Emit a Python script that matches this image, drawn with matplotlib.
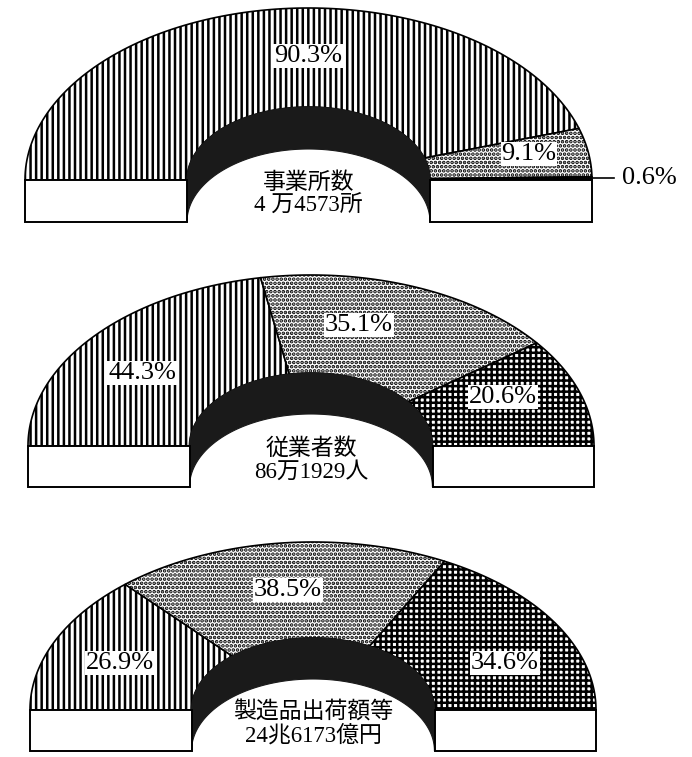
import numpy as np
import matplotlib.pyplot as plt
from matplotlib.patches import Polygon, Rectangle

plt.rcParams['hatch.linewidth'] = 1.8

# data
titles = ["事業所数", "従業者数", "製造品出荷額等"]
totals = ["4 万4573所", "86万1929人", "24兆6173億円"]
shares = [
    [90.3, 9.1, 0.6],
    [44.3, 35.1, 20.6],
    [26.9, 38.5, 34.6],
]

# layout (pixel coordinates of the 692x757 picture)
# cx, cy, outer a, outer b, inner a, inner b, thickness
rings = [
    (308.5, 180, 283.5, 172, 121.5, 73, 42),
    (311.0, 446, 283.0, 171, 121.5, 73, 41),
    (313.0, 710, 283.0, 168, 121.5, 72, 41),
]
label_pos = [
    [(308, 56), (529, 154), None],
    [(142, 373), (359, 325), (503, 397)],
    [(120, 663), (288, 590), (505, 663)],
]
# hatch, face colour per slice
styles = [
    [("|||", "white"), ("....", "white"), ("", "black")],
    [("|||", "white"), ("....", "white"), ("+++", "white")],
    [("|||", "white"), ("....", "white"), ("+++", "white")],
]

num_font = ["Liberation Serif", "Noto Sans CJK JP"]
jp_font = ["Noto Sans CJK JP"]


def arc(cx, cy, a, b, t0, t1, n=120):
    t = np.radians(np.linspace(t0, t1, n))
    return np.column_stack([cx + a * np.cos(t), cy - b * np.sin(t)])


fig = plt.figure(figsize=(6.92, 7.57), dpi=100)
ax = fig.add_axes([0, 0, 1, 1])
ax.set_xlim(0, 692)
ax.set_ylim(757, 0)
ax.axis("off")

for i, (cx, cy, A, B, a, b, h) in enumerate(rings):
    # slices on the top face, from the left end clockwise
    start = 180.0
    for j, v in enumerate(shares[i]):
        end = start - 180.0 * v / 100.0
        pts = np.vstack([arc(cx, cy, A, B, start, end), arc(cx, cy, a, b, end, start)])
        hatch, face = styles[i][j]
        ax.add_patch(Polygon(pts, closed=True, facecolor=face, edgecolor="black",
                             hatch=hatch, lw=1.2, zorder=2))
        if label_pos[i][j] is not None:
            x, y = label_pos[i][j]
            ax.text(x, y, f"{v}%", ha="center", va="center", fontsize=19,
                    family=num_font, zorder=5,
                    bbox=dict(facecolor="white", edgecolor="none", pad=0.5))
        else:
            # thin slice: leader line out to the right
            mid = np.radians((start + end) / 2)
            x0, y0 = cx + A * np.cos(mid), cy - B * np.sin(mid)
            ax.plot([x0, x0 + 22], [y0, y0], color="black", lw=1.2, zorder=3)
            ax.text(x0 + 30, y0, f"{v}%", ha="left", va="center", fontsize=19,
                    family=num_font, zorder=5)
        start = end

    # inner wall seen through the hole
    wall = np.vstack([arc(cx, cy, a, b, 180, 0), arc(cx, cy + h, a, b, 0, 180)])
    ax.add_patch(Polygon(wall, closed=True, facecolor="#1a1a1a", edgecolor="#1a1a1a",
                         lw=0.8, zorder=2))

    # cut faces of the ring
    for x0 in (cx - A, cx + a):
        ax.add_patch(Rectangle((x0, cy), A - a, h, facecolor="white",
                               edgecolor="black", lw=1.4, zorder=3))

    ax.text(cx, cy + 2, titles[i], ha="center", va="center", fontsize=16.5,
            family=jp_font, zorder=5)
    ax.text(cx, cy + 26, totals[i], ha="center", va="center", fontsize=16.5,
            family=num_font, zorder=5)

fig.savefig("out.png", dpi=100)
